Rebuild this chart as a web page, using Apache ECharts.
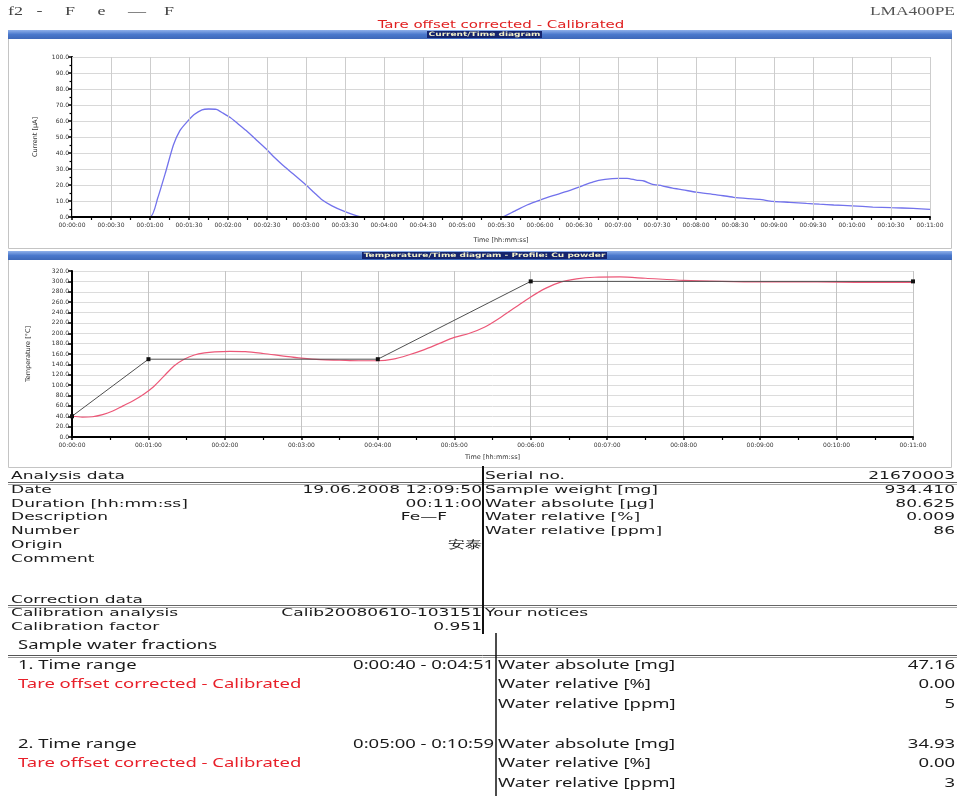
<!DOCTYPE html>
<html><head><meta charset="utf-8">
<script src="https://cdn.jsdelivr.net/npm/echarts@6/dist/echarts.min.js"></script>
<style>html,body{margin:0;padding:0;background:#fff}#c{width:957px;height:796px}</style>
</head><body><div id="c"></div><script>
// ---- chart data (seconds / values) ----
const currentTime = [0,60,66,72,78,83,88,94,100,105,111,116,122,128,134,142,150,156,162,170,180,186,192,200,210,218,224,240,300,330,340,350,360,370,380,391,401,410,420,427,434,440,446,454,462,470,480,495,509,520,529,539,552,565,575,586,600,616,630,647,660];
const currentValue = [0,0,12,28,45,54,59,64,67,67.5,67.3,65,62,58,54,48,42,37,32.5,27,20,15.5,11,7,3.3,1,0,0,0,0,3.5,7.5,10.6,13.3,15.8,19,22,23.5,24.2,24.2,23.1,22.5,20.5,19.5,18,17,15.5,14,12.3,11.5,11,9.8,9.2,8.5,8,7.5,7,6.2,5.8,5.4,4.8];
const setpointTime = [0,60,240,360,660];
const setpointTemp = [40,150,150,300,300];
const tempTime = [0,8,16,24,32,40,48,56,64,72,80,88,96,104,112,124,136,150,166,180,195,210,225,240,252,264,276,288,300,312,324,336,348,360,372,384,396,410,430,450,480,510,540,570,600,630,660];
const tempValue = [40,38.5,39,43,50,60,70,82,97,117,137,150,158,162,164,165,164.5,161,156,152,149,148,147,147,150,158,168,180,192,200,212,230,250,270,287,299,305,308,308.5,306,302,300,299,299,298.5,298,298];
// axis ranges
const timeRange = [0, 660];
const currentRange = [0, 100, 10];
const tempRange = [0, 320, 20];
// report texts
const analysisRows = [['Date','19.06.2008 12:09:50'],['Duration [hh:mm:ss]','00:11:00'],['Description','Fe—F'],['Number',''],['Origin','安泰'],['Comment','']];
const resultRows = [['Sample weight [mg]','934.410'],['Water absolute [µg]','80.625'],['Water relative [%]','0.009'],['Water relative [ppm]','86']];
const correctionRows = [['Calibration analysis','Calib20080610-103151'],['Calibration factor','0.951']];
const fractions = [
  {label:'1. Time range', range:'0:00:40 - 0:04:51', abs:'47.16', rel:'0.00', ppm:'5'},
  {label:'2. Time range', range:'0:05:00 - 0:10:59', abs:'34.93', rel:'0.00', ppm:'3'}
];

const zip = (a,b) => a.map((v,i)=>[v,b[i]]);
const pad = n => String(n).padStart(2,'0');
const hms = s => pad(Math.floor(s/3600))+':'+pad(Math.floor(s%3600/60))+':'+pad(Math.round(s%60));

const els = [];
function line(x1,y1,x2,y2,stroke,w){els.push({type:'line',silent:true,shape:{x1,y1,x2,y2},style:{stroke,lineWidth:w}});}
function rect(x,y,width,height,style){els.push({type:'rect',silent:true,shape:{x,y,width,height},style});}
function text(x,y,str,font,fill,align,sx){
  els.push({type:'text',silent:true,x,y,scaleX:sx||1,originX:0,originY:0,
    style:{text:str,font,fill,textAlign:align||'left',align:align||'left',textVerticalAlign:'middle',verticalAlign:'middle'}});
}

// header
const serif = '12px "Liberation Serif"';
text(8,12,'f2   -     F     e     —    F',serif,'#444','left',1.5);
text(955,12,'LMA400PE',serif,'#555','right',1.45);
text(501,25,'Tare offset corrected - Calibrated','10px "DejaVu Sans"','#e02020','center',1.5);

// panels
function panel(y,h,title,bx,bw){
  rect(8.5,y+0.5,943,h,{fill:null,stroke:'#c4c4c4',lineWidth:1});
  rect(8,y,944,9,{fill:{type:'linear',x:0,y:0,x2:0,y2:1,colorStops:[{offset:0,color:'#8fb0ea'},{offset:0.5,color:'#4a78cc'},{offset:1,color:'#3e68b8'}]}});
  rect(bx,y+1,bw,7,{fill:'#14246e'});
  text(bx+bw/2,y+4.7,title,'bold 6px "DejaVu Sans"','#f2f0c8','center',1.5);
}
panel(30,218,'Current/Time diagram',427,115);
panel(251,216,'Temperature/Time diagram - Profile: Cu powder',362,245);

// report table (upper block)
const f1 = '11px "DejaVu Sans"', s1 = 1.55, c1 = '#1a1a1a';
text(11,476,'Analysis data',f1,c1,'left',s1);
text(485,476,'Serial no.',f1,c1,'left',s1);
text(955,476,'21670003',f1,c1,'right',s1);
line(8,482.5,957,482.5,'#666',1); line(8,484.5,957,484.5,'#aaa',1);
analysisRows.forEach((r,i)=>{
  const y = 490 + i*13.8;
  text(11,y,r[0],f1,c1,'left',s1);
  if (r[1]) text(r[0]==='Description'?447:482,y,r[1],f1,c1,'right',s1);
});
resultRows.forEach((r,i)=>{
  const y = 490 + i*13.8;
  text(485,y,r[0],f1,c1,'left',s1);
  text(955,y,r[1],f1,c1,'right',s1);
});
text(11,600,'Correction data',f1,c1,'left',s1);
line(8,605.5,957,605.5,'#666',1); line(8,607.5,957,607.5,'#aaa',1);
correctionRows.forEach((r,i)=>{
  const y = 613 + i*14;
  text(11,y,r[0],f1,c1,'left',s1);
  text(482,y,r[1],f1,c1,'right',s1);
});
text(485,613,'Your notices',f1,c1,'left',s1);
line(483,466,483,634,'#111',2);

// lower block
const f2 = '13px "Noto Sans"', s2 = 1.42, red = '#e8202a';
text(18,645,'Sample water fractions',f2,c1,'left',s2);
line(8,655.5,957,655.5,'#555',1); line(8,657.5,957,657.5,'#999',1);
line(496,633,496,796,'#111',1.5);
fractions.forEach((fr,i)=>{
  const y0 = 665 + i*79;
  text(18,y0,fr.label,f2,c1,'left',s2);
  text(494,y0,fr.range,f2,c1,'right',s2);
  text(18,y0+19.5,'Tare offset corrected - Calibrated',f2,red,'left',s2);
  text(498,y0,'Water absolute [mg]',f2,c1,'left',s2);
  text(955,y0,fr.abs,f2,c1,'right',s2);
  text(498,y0+19.5,'Water relative [%]',f2,c1,'left',s2);
  text(955,y0+19.5,fr.rel,f2,c1,'right',s2);
  text(498,y0+39,'Water relative [ppm]',f2,c1,'left',s2);
  text(955,y0+39,fr.ppm,f2,c1,'right',s2);
});

const tickFont = {fontSize:6, color:'#333', fontFamily:'DejaVu Sans'};
const nameFont = {fontSize:6.5, color:'#333', fontFamily:'DejaVu Sans'};
const axLine = {show:true,onZero:false,lineStyle:{color:'#000',width:2}};

const chart = echarts.init(document.getElementById('c'), null, {renderer:'canvas'});
chart.setOption({
  animation:false,
  backgroundColor:'#fff',
  grid:[
    {left:72, top:57, width:858, height:160},
    {left:72, top:271, width:841, height:166}
  ],
  xAxis:[
    {gridIndex:0,type:'value',min:timeRange[0],max:timeRange[1],interval:30,z:5,
     axisLine:axLine,axisTick:{show:true,length:3,lineStyle:{color:'#000',width:1.5}},
     minorTick:{show:true,splitNumber:2,length:3,lineStyle:{color:'#000',width:1.2}},
     splitLine:{show:true,lineStyle:{color:'#cdcdcd',width:1}},
     axisLabel:Object.assign({margin:5,formatter:hms,hideOverlap:false},tickFont),
     name:'Time [hh:mm:ss]',nameLocation:'middle',nameGap:20,nameTextStyle:nameFont},
    {gridIndex:1,type:'value',min:timeRange[0],max:timeRange[1],interval:60,
     axisLine:axLine,axisTick:{show:true,length:3,lineStyle:{color:'#000',width:1.5}},
     minorTick:{show:true,splitNumber:2,length:3,lineStyle:{color:'#000',width:1.2}},
     splitLine:{show:true,lineStyle:{color:'#c4c4c4',width:1}},
     axisLabel:Object.assign({margin:5,formatter:hms},tickFont),
     name:'Time [hh:mm:ss]',nameLocation:'middle',nameGap:17,nameTextStyle:nameFont}
  ],
  yAxis:[
    {gridIndex:0,type:'value',min:currentRange[0],max:currentRange[1],interval:currentRange[2],
     axisLine:axLine,axisTick:{show:true,length:4,lineStyle:{color:'#000',width:1.5}},
     minorTick:{show:true,splitNumber:2,length:2.5,lineStyle:{color:'#000',width:1.2}},
     splitLine:{show:true,lineStyle:{color:'#d8d8d8',width:1}},
     axisLabel:Object.assign({margin:3,formatter:v=>v.toFixed(1)},tickFont),
     name:'Current [µA]',nameLocation:'middle',nameGap:33,nameRotate:90,nameTextStyle:nameFont},
    {gridIndex:1,type:'value',min:tempRange[0],max:tempRange[1],interval:tempRange[2],
     axisLine:axLine,axisTick:{show:true,length:4,lineStyle:{color:'#000',width:1.5}},
     splitLine:{show:true,lineStyle:{color:'#dcdcdc',width:1}},
     axisLabel:Object.assign({margin:3,formatter:v=>v.toFixed(1)},tickFont),
     name:'Temperature [°C]',nameLocation:'middle',nameGap:40,nameRotate:90,nameTextStyle:nameFont}
  ],
  series:[
    {type:'line',xAxisIndex:0,yAxisIndex:0,data:zip(currentTime,currentValue),showSymbol:false,smooth:0.2,
     lineStyle:{color:'#7272ec',width:1.3},z:3},
    {type:'line',xAxisIndex:1,yAxisIndex:1,data:zip(tempTime,tempValue),showSymbol:false,smooth:0.3,
     lineStyle:{color:'#ec5878',width:1.2},z:3},
    {type:'line',xAxisIndex:1,yAxisIndex:1,data:zip(setpointTime,setpointTemp),showSymbol:true,symbol:'rect',symbolSize:4,
     itemStyle:{color:'#111'},lineStyle:{color:'#505050',width:1},z:4}
  ],
  graphic:{elements:els}
});
</script></body></html>
